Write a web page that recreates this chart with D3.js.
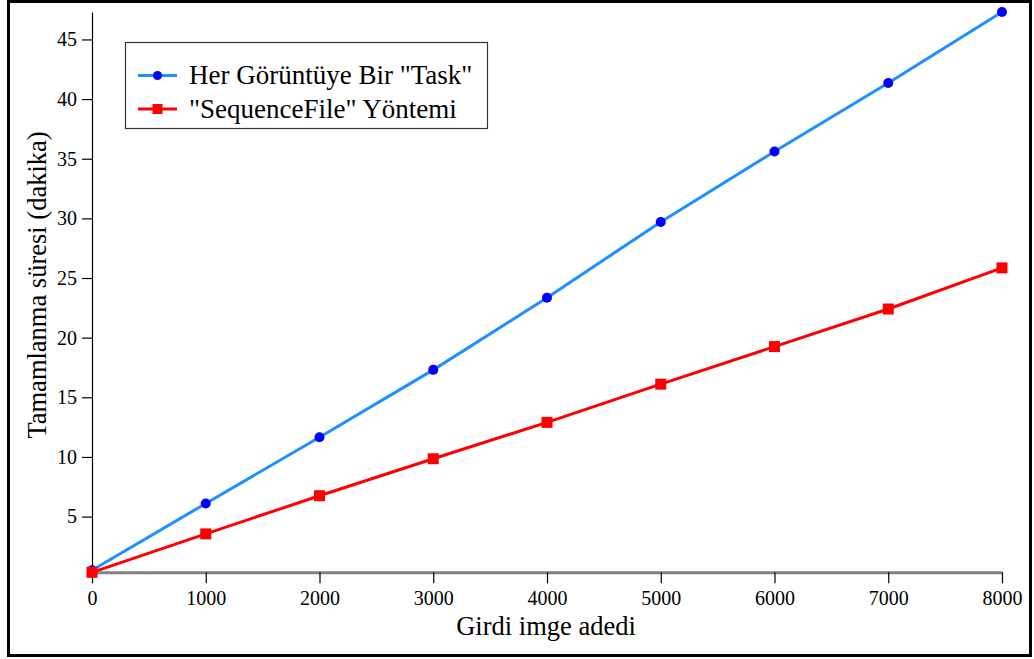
<!DOCTYPE html>
<html><head><meta charset="utf-8">
<script src="https://cdn.jsdelivr.net/npm/d3@7"></script>
<style>body{margin:0;background:#fff}svg{display:block}</style>
</head><body>
<script>
const xValues = [0, 1000, 2000, 3000, 4000, 5000, 6000, 7000, 8000];
const taskValues = [0.5, 6.1, 11.65, 17.3, 23.35, 29.7, 35.6, 41.35, 47.3];
const seqValues = [0.33, 3.55, 6.75, 9.85, 12.9, 16.1, 19.25, 22.4, 25.85];
const seriesNames = ['Her Görüntüye Bir "Task"', '"SequenceFile" Yöntemi'];
const xTicks = [0, 1000, 2000, 3000, 4000, 5000, 6000, 7000, 8000];
const yTicks = [5, 10, 15, 20, 25, 30, 35, 40, 45];
const xTitle = "Girdi imge adedi";
const yTitle = "Tamamlanma süresi (dakika)";

const W = 1034, H = 659;
const svg = d3.select("body").append("svg").attr("width", W).attr("height", H);
const font = "'Liberation Serif','Times New Roman',serif";

svg.append("rect").attr("x", 8.5).attr("y", 1.5).attr("width", 1022).attr("height", 654)
  .attr("fill", "#fff").attr("stroke", "#000").attr("stroke-width", 3);

const x = d3.scaleLinear().domain(d3.extent(xValues)).range([92, 1002]);
const allY = taskValues.concat(seqValues);
const y = d3.scaleLinear().domain(d3.extent(allY)).range([572.3, 12]);

// y axis
const yAxis = svg.append("g").attr("transform", "translate(92,0)")
  .attr("font-family", font)
  .call(d3.axisLeft(y).tickValues(yTicks).tickFormat(d3.format("d")).tickSize(10).tickPadding(5).tickSizeOuter(0));
yAxis.attr("font-family", font);
yAxis.select(".domain").attr("stroke", "#000").attr("stroke-width", 1.2);
yAxis.selectAll(".tick line").attr("stroke", "#000").attr("stroke-width", 1.2);
yAxis.selectAll("text").attr("font-family", font).attr("font-size", 20).attr("fill", "#000");

// x axis
const xAxis = svg.append("g").attr("transform", `translate(0,${y.range()[0]})`)
  .call(d3.axisBottom(x).tickValues(xTicks).tickFormat(d3.format("d")).tickSize(11).tickPadding(8).tickSizeOuter(0));
xAxis.attr("font-family", font);
xAxis.select(".domain").attr("stroke", "#808080").attr("stroke-width", 3);
xAxis.selectAll(".tick line").attr("stroke", "#000").attr("stroke-width", 1.2);
xAxis.selectAll("text").attr("font-family", font).attr("font-size", 20).attr("fill", "#000");

svg.append("text").attr("x", 546).attr("y", 635).attr("text-anchor", "middle")
  .attr("font-family", font).attr("font-size", 26.5).attr("fill", "#000").text(xTitle);
svg.append("text").attr("transform", "translate(46,285) rotate(-90)").attr("text-anchor", "middle")
  .attr("font-family", font).attr("font-size", 26.5).attr("fill", "#000").text(yTitle);

const line = d3.line().x(d => x(d[0])).y(d => y(d[1]));
const taskData = xValues.map((v, i) => [v, taskValues[i]]);
const seqData = xValues.map((v, i) => [v, seqValues[i]]);

svg.append("path").datum(taskData).attr("d", line).attr("fill", "none")
  .attr("stroke", "#1E8FFF").attr("stroke-width", 3);
svg.append("path").datum(seqData).attr("d", line).attr("fill", "none")
  .attr("stroke", "#FF0000").attr("stroke-width", 3);

svg.selectAll(".ptask").data(taskData).enter().append("circle")
  .attr("cx", d => x(d[0])).attr("cy", d => y(d[1])).attr("r", 5).attr("fill", "#0000FF");
svg.selectAll(".pseq").data(seqData).enter().append("rect")
  .attr("x", d => x(d[0]) - 5.5).attr("y", d => y(d[1]) - 5.5)
  .attr("width", 11).attr("height", 11).attr("fill", "#FF0000");

// legend
const lg = svg.append("g");
lg.append("rect").attr("x", 125.5).attr("y", 42.5).attr("width", 362).attr("height", 86)
  .attr("fill", "#fff").attr("stroke", "#333").attr("stroke-width", 1.2);
const rows = [
  {name: seriesNames[0], color: "#1E8FFF", mark: "#0000FF", shape: "circle", yy: 75.5},
  {name: seriesNames[1], color: "#FF0000", mark: "#FF0000", shape: "square", yy: 109}
];
rows.forEach(r => {
  lg.append("line").attr("x1", 138).attr("x2", 177).attr("y1", r.yy).attr("y2", r.yy)
    .attr("stroke", r.color).attr("stroke-width", 3);
  if (r.shape === "circle") lg.append("circle").attr("cx", 157.5).attr("cy", r.yy).attr("r", 4.5).attr("fill", r.mark);
  else lg.append("rect").attr("x", 152.5).attr("y", r.yy - 5).attr("width", 10).attr("height", 10).attr("fill", r.mark);
  lg.append("text").attr("x", 189).attr("y", r.yy + 8.5).attr("font-family", font).attr("font-size", 27)
    .attr("fill", "#000").text(r.name);
});
</script>
</body></html>
